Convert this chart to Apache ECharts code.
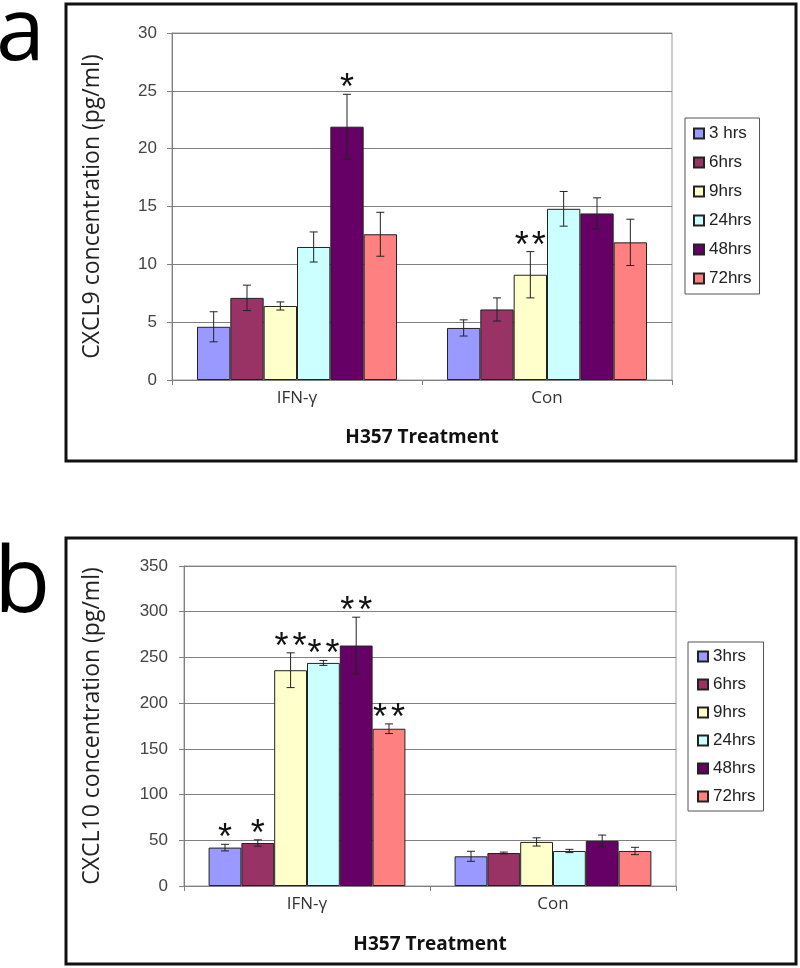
<!DOCTYPE html>
<html>
<head>
<meta charset="utf-8">
<script src="https://cdn.jsdelivr.net/npm/echarts@6/dist/echarts.min.js"></script>
<style>
html,body{margin:0;padding:0;background:#fff;}
#chart{width:800px;height:968px;}
</style>
</head>
<body>
<div id="chart"></div>
<script>
// ---- data ----
const categories = ['IFN-\u03b3', 'Con'];
const namesA = ['3 hrs', '6hrs', '9hrs', '24hrs', '48hrs', '72hrs'];
const namesB = ['3hrs', '6hrs', '9hrs', '24hrs', '48hrs', '72hrs'];
const colors = ['#9999FF', '#993366', '#FFFFCC', '#CCFFFF', '#660066', '#FF8080'];

// panel a: CXCL9 (pg/ml), order: 3, 6, 9, 24, 48, 72 hrs
const cxcl9_IFN = [4.6, 7.1, 6.4, 11.5, 21.9, 12.6];
const cxcl9_Con = [4.5, 6.1, 9.1, 14.8, 14.4, 11.9];
const cxcl9_IFN_err = [1.3, 1.1, 0.35, 1.3, 2.8, 1.9];
const cxcl9_Con_err = [0.7, 1.0, 2.0, 1.5, 1.35, 2.0];
const cxcl9_IFN_sig = ['', '', '', '', '*', ''];
const cxcl9_Con_sig = ['', '', '**', '', '', ''];
const yTicksA = [0, 30, 5];

// panel b: CXCL10 (pg/ml)
const cxcl10_IFN = [42, 47, 236, 244, 263, 172];
const cxcl10_Con = [32.5, 36.1, 48.2, 38.3, 49.3, 38.3];
const cxcl10_IFN_err = [3.6, 3.5, 19, 2.7, 31, 5.3];
const cxcl10_Con_err = [5.5, 1, 4.5, 1.8, 6.4, 4];
const cxcl10_IFN_sig = ['*', '*', '**', '**', '**', '**'];
const cxcl10_Con_sig = ['', '', '', '', '', ''];
const yTicksB = [0, 350, 50];

// ---- build ----
function buildBars(names, ifn, con, gi) {
  return names.map((n, s) => ({
    name: n,
    type: 'bar',
    xAxisIndex: gi, yAxisIndex: gi,
    data: [ifn[s], con[s]],
    barGap: '0%',
    barCategoryGap: '20%',
    itemStyle: { color: colors[s], borderColor: '#222', borderWidth: 1 },
    emphasis: { disabled: true },
    z: 2
  }));
}

function buildErr(ifn, con, ifnE, conE, ifnS, conS, gi, starGap) {
  const data = [];
  const sigs = [];
  [[ifn, ifnE, ifnS], [con, conE, conS]].forEach((arr, c) => {
    arr[0].forEach((v, s) => {
      data.push([c, s, v, arr[1][s]]);
      sigs.push(arr[2][s]);
    });
  });
  return {
    type: 'custom',
    xAxisIndex: gi, yAxisIndex: gi,
    encode: { x: 0, y: 2 },
    data: data,
    z: 5,
    silent: true,
    renderItem: function (params, api) {
      const c = api.value(0), s = api.value(1), v = api.value(2), e = api.value(3);
      const band = api.size([1, 0])[0];
      const bw = band * 0.8 / 6;
      const center = api.coord([c, v]);
      const x = center[0] - band * 0.4 + (s + 0.5) * bw;
      const yT = api.coord([c, v + e])[1];
      const yB = api.coord([c, v - e])[1];
      const cap = 4;
      const st = { stroke: '#222', lineWidth: 1 };
      const children = [
        { type: 'line', shape: { x1: x, y1: yT, x2: x, y2: yB }, style: st },
        { type: 'line', shape: { x1: x - cap, y1: yT, x2: x + cap, y2: yT }, style: st },
        { type: 'line', shape: { x1: x - cap, y1: yB, x2: x + cap, y2: yB }, style: st }
      ];
      const sig = sigs[params.dataIndex];
      const n = sig.length;
      for (let i = 0; i < n; i++) {
        children.push({
          type: 'text',
          style: {
            text: '*', x: x + (i - (n - 1) / 2) * starGap, y: yT - 5,
            align: 'center', verticalAlign: 'middle',
            font: '36px "Liberation Sans", Arial, sans-serif', fill: '#111'
          }
        });
      }
      return { type: 'group', children: children };
    }
  };
}

const axLine = { show: true, lineStyle: { color: '#808080', width: 1 } };

function xAx(gi) {
  return {
    type: 'category', gridIndex: gi, data: categories,
    axisLine: axLine,
    axisTick: { show: true, length: 5, lineStyle: { color: '#808080' } },
    axisLabel: { fontFamily: '"Open Sans", sans-serif', fontSize: 17, color: '#333', margin: 10 },
    name: 'H357 Treatment', nameLocation: 'middle', nameGap: gi === 0 ? 48 : 49,
    nameTextStyle: { fontFamily: '"Open Sans", sans-serif', fontWeight: 'bold', fontSize: 19, color: '#111' }
  };
}
function yAx(gi, ticks, name, gap, margin) {
  return {
    type: 'value', gridIndex: gi, min: ticks[0], max: ticks[1], interval: ticks[2],
    axisLine: axLine,
    axisTick: { show: true, length: 5, lineStyle: { color: '#808080' } },
    axisLabel: { fontFamily: '"Liberation Sans", Arial, sans-serif', fontSize: 17, color: '#444', margin: margin },
    splitLine: { show: true, lineStyle: { color: '#808080', width: 1 } },
    name: name, nameLocation: 'middle', nameGap: gap,
    nameTextStyle: { fontFamily: '"Open Sans", sans-serif', fontSize: 23, color: '#222' }
  };
}

const legendText = { fontFamily: '"Liberation Sans", Arial, sans-serif', fontSize: 17, color: '#222' };

const option = {
  animation: false,
  backgroundColor: '#fff',
  grid: [
    { left: 172, top: 33, width: 500, height: 347, show: true, borderColor: '#999', borderWidth: 1, outerBoundsMode: 'none', containLabel: false },
    { left: 184, top: 566, width: 492, height: 320, show: true, borderColor: '#999', borderWidth: 1, outerBoundsMode: 'none', containLabel: false }
  ],
  xAxis: [xAx(0), xAx(1)],
  yAxis: [
    yAx(0, yTicksA, 'CXCL9 concentration (pg/ml)', 68, 15),
    yAx(1, yTicksB, 'CXCL10 concentration (pg/ml)', 80, 16)
  ],
  legend: [
    {
      data: namesA, orient: 'vertical', left: 685, top: 118,
      itemWidth: 10, itemHeight: 10, itemGap: 12, icon: 'rect',
      padding: [7, 8, 7, 8], borderColor: '#555', borderWidth: 1,
      textStyle: legendText, selectedMode: false
    },
    {
      data: namesB, orient: 'vertical', left: 688, top: 642,
      itemWidth: 10, itemHeight: 10, itemGap: 11, icon: 'rect',
      padding: [6, 8, 6, 9], borderColor: '#555', borderWidth: 1,
      textStyle: legendText, selectedMode: false
    }
  ],
  graphic: [
    { type: 'rect', shape: { x: 66, y: 4, width: 730, height: 457 }, style: { fill: 'none', stroke: '#111', lineWidth: 3 }, silent: true },
    { type: 'rect', shape: { x: 66, y: 538, width: 730, height: 426 }, style: { fill: 'none', stroke: '#111', lineWidth: 3 }, silent: true },
    { type: 'text', left: -4, top: -9, style: { text: 'a', font: '88px "Open Sans", sans-serif', fill: '#000' }, silent: true },
    { type: 'text', left: -6, top: 540, style: { text: 'b', font: '92px "Open Sans", sans-serif', fill: '#000' }, silent: true }
  ],
  series: [].concat(
    buildBars(namesA, cxcl9_IFN, cxcl9_Con, 0),
    buildBars(namesB, cxcl10_IFN, cxcl10_Con, 1),
    [buildErr(cxcl9_IFN, cxcl9_Con, cxcl9_IFN_err, cxcl9_Con_err, cxcl9_IFN_sig, cxcl9_Con_sig, 0, 17),
     buildErr(cxcl10_IFN, cxcl10_Con, cxcl10_IFN_err, cxcl10_Con_err, cxcl10_IFN_sig, cxcl10_Con_sig, 1, 18)]
  )
};

const chart = echarts.init(document.getElementById('chart'), null, { renderer: 'canvas' });
chart.setOption(option);
</script>
</body>
</html>
